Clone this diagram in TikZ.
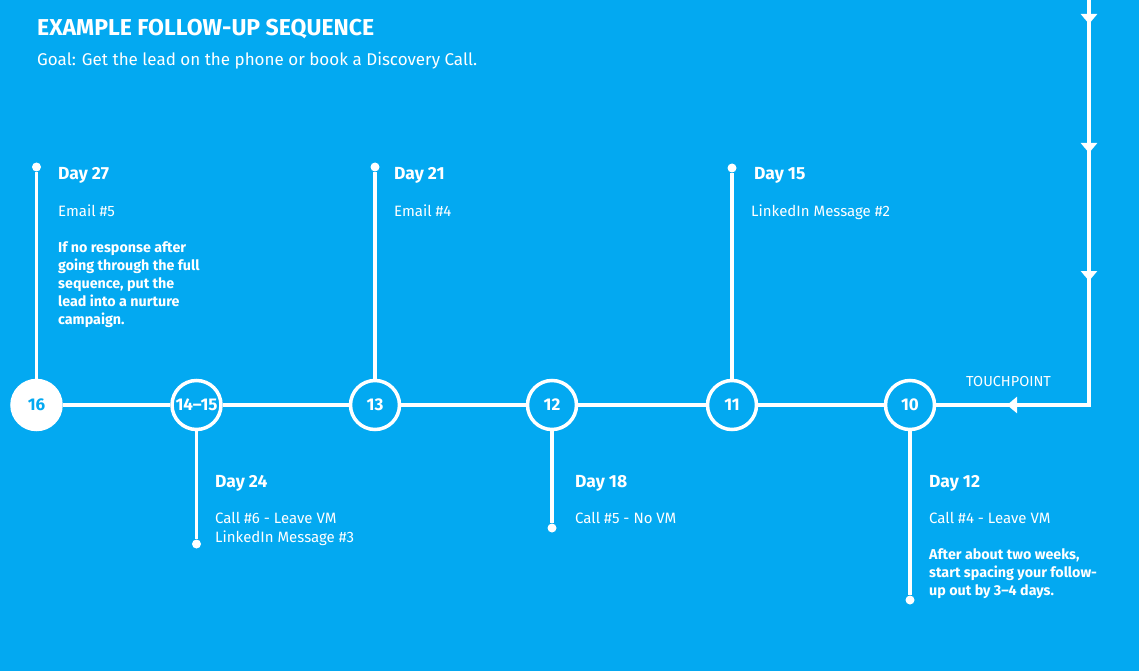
\documentclass[tikz,border=0pt]{standalone}
\usepackage{fontspec}
\setmainfont{Fira Sans}
\usetikzlibrary{arrows.meta,positioning,decorations.markings}
\definecolor{seqblue}{HTML}{03A9F1}

\begin{document}
\begin{tikzpicture}[x=1pt,y=-1pt,
  track/.style={draw=white,line width=3.5pt},
  stop/.style={circle,draw=white,line width=3.5pt,fill=seqblue,minimum size=49pt,
    inner sep=0pt,text=white,font=\bfseries\fontsize{17}{17}\selectfont},
  laststop/.style={stop,fill=white,text=seqblue},
  stemend/.style={circle,fill=white,inner sep=0pt,minimum size=9pt},
  heading/.style={anchor=base west,inner sep=0pt,text=white,font=\bfseries\fontsize{23}{25}\selectfont},
  goal/.style={anchor=base west,inner sep=0pt,text=white,font=\fontsize{17}{19}\selectfont},
  dayhead/.style={anchor=base west,inner sep=0pt,text=white,font=\bfseries\fontsize{17.5}{20}\selectfont},
  task/.style={anchor=base west,inner sep=0pt,text=white,align=left,font=\fontsize{15}{19}\selectfont},
  hint/.style={anchor=base west,inner sep=0pt,text=white,align=left,font=\bfseries\fontsize{14.3}{18}\selectfont},
  pointer/.tip={Triangle[width=16pt,length=10pt]}]
\fill[seqblue] (0,0) rectangle (1139,671);
\useasboundingbox (0,0) rectangle (1139,671);

% title
\node[heading] (title) at (37,36) {EXAMPLE FOLLOW-UP SEQUENCE};
\node[goal] (goal) at (37,66) {Goal: Get the lead on the phone or book a Discovery Call.};

% touchpoints
\node[laststop] (c16) at (36.5,405) {16};
\node[stop] (c1415) at (196.5,405) {14--15};
\node[stop] (c13) at (375,405) {13};
\node[stop] (c12) at (552,405) {12};
\node[stop] (c11) at (732,405) {11};
\node[stop] (c10) at (910,405) {10};

\draw[track] (c16) -- (c1415) -- (c13) -- (c12) -- (c11) -- (c10);

% incoming line
\coordinate (feed) at (1089,0);
\coordinate (bend) at (1089,405);
\draw[track,postaction={decorate},decoration={markings,
    mark=at position 24pt with {\arrow{pointer}},
    mark=at position 153pt with {\arrow{pointer}},
    mark=at position 281pt with {\arrow{pointer}},
    mark=at position 487pt with {\arrow{pointer}}}]
  (feed) -- (bend) -- (c10);
\node[task,font=\fontsize{14.5}{16}\selectfont] (touch) at (966,386) {TOUCHPOINT};

% stems
\node[stemend] (e27) at (36.5,167) {};
\node[stemend] (e21) at (375,167) {};
\node[stemend] (e15) at (732,168) {};
\node[stemend] (e24) at (196.5,544) {};
\node[stemend] (e18) at (552,528) {};
\node[stemend] (e12) at (910,600) {};
\draw[track] (c16) -- (e27);
\draw[track] (c13) -- (e21);
\draw[track] (c11) -- (e15);
\draw[track] (c1415) -- (e24);
\draw[track] (c12) -- (e18);
\draw[track] (c10) -- (e12);

% labels above (multi-line nodes sit on their last baseline)
\node[dayhead] (d27) at (58,179) {Day 27};
\node[task] (t27) at (58,216) {Email \#5};
\node[hint] (h27) at (58,324) {If no response after\\going through the full\\sequence, put the\\lead into a nurture\\campaign.};
\node[dayhead] (d21) at (394,179) {Day 21};
\node[task] (t21) at (394,216) {Email \#4};
\node[dayhead] (d15) at (754,179) {Day 15};
\node[task] (t15) at (751,216) {LinkedIn Message \#2};

% labels below
\node[dayhead] (d24) at (215,487) {Day 24};
\node[task] (t24) at (215,542) {Call \#6 - Leave VM\\LinkedIn Message \#3};
\node[dayhead] (d18) at (575,487) {Day 18};
\node[task] (t18) at (575,523) {Call \#5 - No VM};
\node[dayhead] (d12) at (929,487) {Day 12};
\node[task] (t12) at (929,523) {Call \#4 - Leave VM};
\node[hint] (h12) at (929,595) {After about two weeks,\\start spacing your follow-\\up out by 3--4 days.};
\end{tikzpicture}
\end{document}
